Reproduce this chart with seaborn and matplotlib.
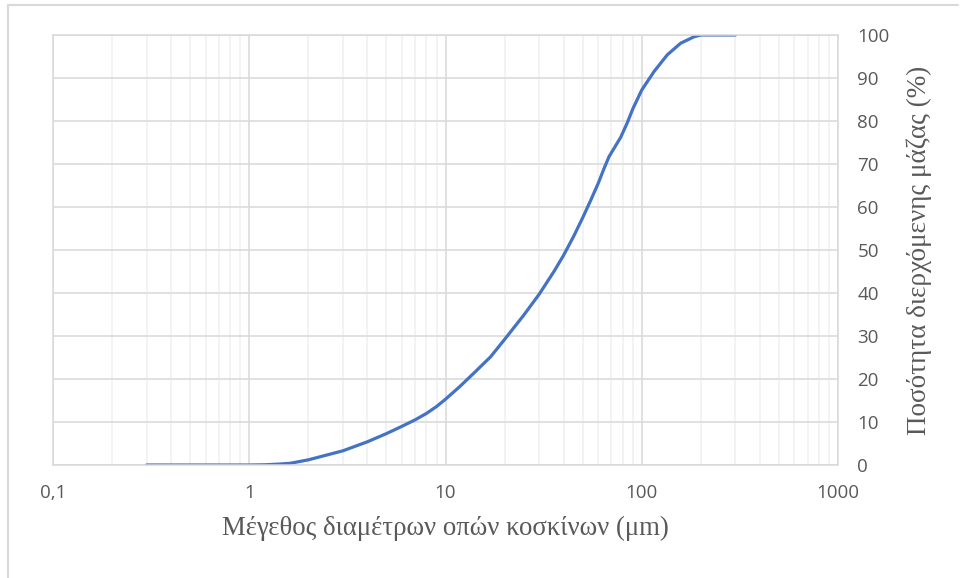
import matplotlib
matplotlib.use("Agg")
import matplotlib.pyplot as plt
import matplotlib.ticker as mticker
from matplotlib.lines import Line2D
import seaborn as sns
import pandas as pd

# Sieve analysis: cumulative passing mass vs. sieve opening
diameter_um = [0.3, 0.5, 0.8, 1.0, 1.2, 1.4, 1.62, 2.0, 3.0, 4.0, 5.0, 6.0, 7.0,
               8.0, 9.0, 10.0, 11.8, 13.9, 17.0, 20.0, 25.0, 30.0, 35.7, 40.0,
               45.0, 50.0, 55.0, 60.0, 64.3, 68.1, 78.1, 84.4, 90.0, 100.0,
               115.5, 135.0, 158.0, 185.0, 200.0, 300.0]
passing_pct = [0.0, 0.0, 0.0, 0.0, 0.05, 0.2, 0.4, 1.2, 3.3, 5.4, 7.3, 9.0, 10.5,
               12.0, 13.6, 15.3, 18.2, 21.3, 25.2, 29.2, 34.8, 39.7, 45.0, 48.8,
               53.2, 57.5, 61.6, 65.5, 69.0, 71.7, 76.2, 79.6, 82.8, 87.2,
               91.5, 95.4, 98.1, 99.6, 100.0, 100.0]

x_ticks = [0.1, 1, 10, 100, 1000]
x_tick_labels = ["0,1", "1", "10", "100", "1000"]
y_ticks = list(range(0, 101, 10))

x_label = "Μέγεθος διαμέτρων οπών κοσκίνων (μm)"
y_label = "Ποσότητα διερχόμενης μάζας (%)"

df = pd.DataFrame({"d": diameter_um, "p": passing_pct})

sns.set_theme(style="white")
plt.rcParams["font.family"] = ["Open Sans", "DejaVu Sans"]

fig = plt.figure(figsize=(9.6, 5.78), dpi=100)
ax = fig.add_axes([53 / 960, 1 - 465 / 578, (838 - 53) / 960, (465 - 35) / 578])

sns.lineplot(data=df, x="d", y="p", ax=ax, color="#4472C4", linewidth=2.3,
             solid_capstyle="round", solid_joinstyle="round")

ax.set_xscale("log")
ax.set_xlim(0.1, 1000)
ax.set_ylim(0, 100)

ax.xaxis.set_major_locator(mticker.FixedLocator(x_ticks))
ax.xaxis.set_major_formatter(mticker.FixedFormatter(x_tick_labels))
ax.xaxis.set_minor_locator(mticker.LogLocator(base=10, subs=range(2, 10)))
ax.xaxis.set_minor_formatter(mticker.NullFormatter())
ax.set_yticks(y_ticks)

ax.yaxis.tick_right()
ax.yaxis.set_label_position("right")

ax.grid(which="major", axis="both", color="#d9d9d9", linewidth=1.1)
ax.grid(which="minor", axis="x", color="#f0f0f0", linewidth=1.1)
ax.set_axisbelow(True)

for side in ax.spines.values():
    side.set_color("#d9d9d9")
    side.set_linewidth(1.1)

ax.tick_params(axis="both", which="both", length=0, labelsize=13.5,
               labelcolor="#595959")
ax.tick_params(axis="x", pad=14)
ax.tick_params(axis="y", pad=14)

serif = ["Liberation Serif", "DejaVu Serif"]
ax.set_xlabel(x_label, family=serif, fontsize=19.3, color="#595959", labelpad=10)
ax.set_ylabel(y_label, family=serif, fontsize=19.5, color="#595959", labelpad=12)

# Chart area frame (top and left edges)
fig.add_artist(Line2D([8 / 960, 958 / 960], [1 - 5 / 578, 1 - 5 / 578],
                      transform=fig.transFigure, color="#d9d9d9", linewidth=1.5))
fig.add_artist(Line2D([8 / 960, 8 / 960], [0, 1 - 5 / 578],
                      transform=fig.transFigure, color="#d9d9d9", linewidth=1.5))

fig.savefig("out.png", dpi=100)
